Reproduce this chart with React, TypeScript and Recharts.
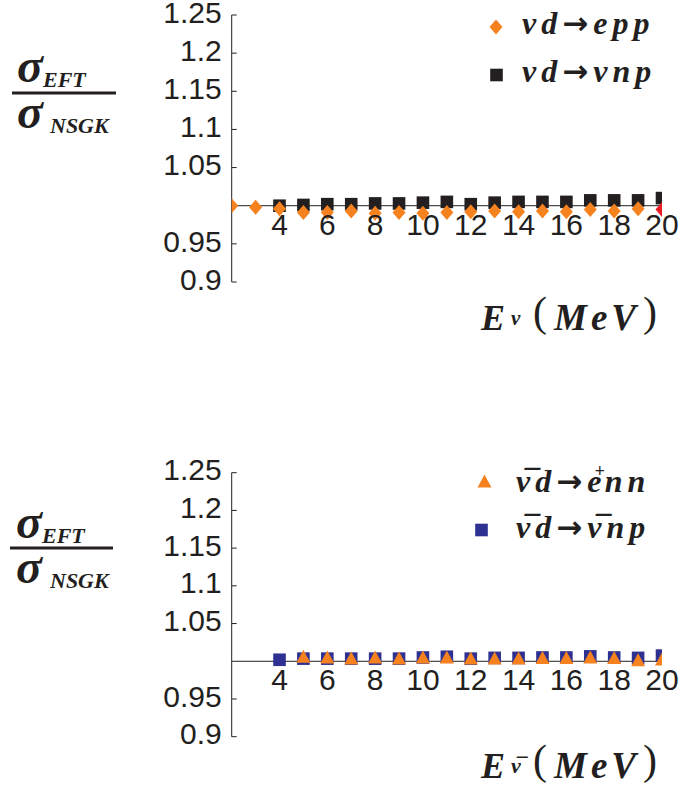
import React from 'react';
import { ScatterChart, Scatter, XAxis, YAxis, ReferenceLine, Legend, Label } from 'recharts';

// ---------- data ----------
const xTicks = [4, 6, 8, 10, 12, 14, 16, 18, 20];
const yTicks = [0.9, 0.95, 1.05, 1.1, 1.15, 1.2, 1.25];

// top panel: nu d -> e p p (orange diamonds)
const eppEnergies = [2, 3, 4, 5, 6, 7, 8, 9, 10, 11, 12, 13, 14, 15, 16, 17, 18, 19];
const eppRatios = [1.0, 0.998, 0.996, 0.991, 0.991, 0.993, 0.99, 0.991, 0.99, 0.991, 0.992, 0.993, 0.992, 0.993, 0.992, 0.995, 0.993, 0.996];
// last point drawn in red
const eppEndEnergies = [20];
const eppEndRatios = [0.995];

// top panel: nu d -> nu n p (black squares)
const vnpEnergies = [4, 5, 6, 7, 8, 9, 10, 11, 12, 13, 14, 15, 16, 17, 18, 19, 20];
const vnpRatios = [1.0, 1.001, 1.002, 1.002, 1.003, 1.003, 1.004, 1.005, 1.002, 1.004, 1.005, 1.005, 1.005, 1.007, 1.007, 1.007, 1.01];

// bottom panel: anti-nu d -> e+ n n (orange triangles)
const ennEnergies = [5, 6, 7, 8, 9, 10, 11, 12, 13, 14, 15, 16, 17, 18, 19, 20];
const ennRatios = [1.0065, 1.0055, 1.0045, 1.0055, 1.0045, 1.0055, 1.0055, 1.0045, 1.0045, 1.0045, 1.005, 1.005, 1.0055, 1.005, 1.002, 1.003];

// bottom panel: anti-nu d -> anti-nu n p (navy squares)
const antiVnpEnergies = [4, 5, 6, 7, 8, 9, 10, 11, 12, 13, 14, 15, 16, 17, 18, 19, 20];
const antiVnpRatios = [1.002, 1.0035, 1.0035, 1.0035, 1.0035, 1.0035, 1.005, 1.006, 1.0035, 1.0045, 1.0045, 1.005, 1.005, 1.0065, 1.005, 1.0045, 1.0075];

const toPoints = (xs: number[], ys: number[]) => xs.map((x, i) => ({ x, y: ys[i] }));

// ---------- styles ----------
const ORANGE = '#F5821F';
const BLACK = '#231F20';
const NAVY = '#2E3192';
const RED = '#ED1C24';
const SANS = '"Liberation Sans", Arial, sans-serif';
const SERIF = '"Liberation Serif", "Times New Roman", serif';
const ARROW_FONT = '"DejaVu Sans", sans-serif';

const W = 683;
const H = 397;
const PLOT_LEFT = 231.7;
const PLOT_RIGHT = 662;
const X_AXIS_H = 30;
const Y_DOMAIN: [number, number] = [0.9, 1.25];
const X_DOMAIN: [number, number] = [2, 20];

// ---------- marker shapes ----------
const Diamond = ({ cx, cy, fill }: any) => (
  <polygon points={`${cx},${cy - 7.5} ${cx + 6.5},${cy} ${cx},${cy + 7.5} ${cx - 6.5},${cy}`} fill={fill} />
);
const Square = ({ cx, cy, fill }: any) => (
  <rect x={cx - 6.3} y={cy - 6.3} width={12.6} height={12.6} fill={fill} />
);
const Triangle = ({ cx, cy, fill }: any) => (
  <polygon points={`${cx},${cy - 6.5} ${cx + 7},${cy + 6.5} ${cx - 7},${cy + 6.5}`} fill={fill} />
);

// ---------- ticks ----------
const YTick = (props: any) => {
  const { x, y, payload } = props;
  return (
    <g>
      <line x1={x + 10} x2={x + 15} y1={y} y2={y} stroke={BLACK} strokeWidth={1} />
      <text x={x} y={y - 3} dy="0.355em" textAnchor="end" fontFamily={SANS} fontSize={30} fill={BLACK}>
        {payload.value}
      </text>
    </g>
  );
};

const makeXTick = (shift: number) => (props: any) => {
  const { x, y, payload } = props;
  return (
    <text x={x} y={y + shift} dy="0.355em" textAnchor="middle" fontFamily={SANS} fontSize={30} fill={BLACK}>
      {payload.value}
    </text>
  );
};

// ---------- labels ----------
const FracLabel = ({ p }: { p: any }) => (
  <g fill={BLACK} fontFamily={SERIF} fontStyle="italic" fontWeight="bold">
    <text x={p.sx} y={p.numBase} fontSize={48}>σ</text>
    <text x={p.subX1} y={p.numBase + 5} fontSize={22}>EFT</text>
    <line x1={p.barX1} x2={p.barX2} y1={p.bar} y2={p.bar} stroke={BLACK} strokeWidth={3} />
    <text x={p.sx} y={p.denBase} fontSize={48}>σ</text>
    <text x={p.subX2} y={p.denBase + 5} fontSize={22}>NSGK</text>
  </g>
);

const XTitle = ({ p, anti }: { p: any; anti: boolean }) => (
  <g fill={BLACK} fontFamily={SERIF}>
    <text x={481} y={p.titleBase} fontSize={36} fontStyle="italic" fontWeight="bold">E</text>
    <text x={511} y={p.titleBase - 5} fontSize={anti ? 22 : 21} fontStyle="italic" fontWeight="bold">
      {anti ? 'ν\u0305' : 'ν'}
    </text>
    <text x={533} y={p.titleBase - 4} fontSize={42}>(</text>
    <text x={554} y={p.titleBase} fontSize={37} fontStyle="italic" fontWeight="bold" letterSpacing={4}>MeV</text>
    <text x={643} y={p.titleBase - 4} fontSize={42}>)</text>
  </g>
);

const legendText = { fontFamily: SERIF, fontStyle: 'italic', fontWeight: 'bold', fontSize: 32, fill: BLACK } as const;
const Arrow = () => (
  <tspan fontFamily={ARROW_FONT} fontStyle="normal" fontWeight="bold" fontSize={31}>→</tspan>
);

const TopLegend = () => (
  <svg width={W} height={110} style={{ display: 'block', overflow: 'visible' }}>
    <Diamond cx={496} cy={27} fill={ORANGE} />
    <text x={522} y={34} {...legendText} letterSpacing={5}>
      νd<Arrow /><tspan>epp</tspan>
    </text>
    <Square cx={496.5} cy={75} fill={BLACK} />
    <text x={522} y={82} {...legendText} letterSpacing={5}>
      νd<Arrow /><tspan>νnp</tspan>
    </text>
  </svg>
);

const BottomLegend = () => (
  <svg width={W} height={160} style={{ display: 'block', overflow: 'visible' }}>
    <Triangle cx={484.5} cy={84} fill={ORANGE} />
    <text x={516} y={95} {...legendText} letterSpacing={5}>
      ν{'\u0305'}d<Arrow /><tspan>e</tspan>
      <tspan dx={-12} dy={-15} fontSize={18}>+</tspan>
      <tspan dx={-5} dy={15}>nn</tspan>
    </text>
    <Square cx={481.5} cy={133} fill={NAVY} />
    <text x={516} y={141} {...legendText} letterSpacing={5}>
      ν{'\u0305'}d<Arrow /><tspan>ν{'\u0305'}np</tspan>
    </text>
  </svg>
);

// ---------- panel ----------
type Series = { data: { x: number; y: number }[]; color: string; shape: any; name: string };

const Panel = ({ p, series, legend, anti }: { p: any; series: Series[]; legend: React.ReactNode; anti: boolean }) => {
  const plotH = p.plotBottom - p.plotTop;
  const yOne = (1 - Y_DOMAIN[0]) / (Y_DOMAIN[1] - Y_DOMAIN[0]);
  const shift = -yOne * plotH + 18.5;
  return (
    <div style={{ position: 'relative', width: W, height: H }}>
      <svg width={0} height={0} style={{ position: 'absolute' }}>
        <defs>
          <clipPath id={p.clipId} clipPathUnits="userSpaceOnUse">
            <rect x={PLOT_LEFT} y={p.plotTop} width={PLOT_RIGHT - PLOT_LEFT} height={plotH} />
          </clipPath>
        </defs>
      </svg>
      <ScatterChart
        width={W}
        height={H}
        margin={{ top: p.plotTop, right: W - PLOT_RIGHT, bottom: H - p.plotBottom - X_AXIS_H, left: 0 }}
      >
        <XAxis
          type="number"
          dataKey="x"
          domain={X_DOMAIN}
          ticks={xTicks}
          interval={0}
          allowDataOverflow
          axisLine={false}
          tickLine={false}
          tickSize={0}
          tickMargin={0}
          height={X_AXIS_H}
          tick={makeXTick(shift)}
        >
          <Label content={() => <XTitle p={p} anti={anti} />} />
        </XAxis>
        <YAxis
          type="number"
          dataKey="y"
          domain={Y_DOMAIN}
          ticks={yTicks}
          interval={0}
          allowDataOverflow
          width={PLOT_LEFT}
          axisLine={{ stroke: BLACK, strokeWidth: 1 }}
          tickLine={false}
          tickSize={0}
          tickMargin={10}
          tick={YTick}
        >
          <Label content={() => <FracLabel p={p} />} />
        </YAxis>
        <ReferenceLine y={1} stroke={BLACK} strokeWidth={1} />
        <Legend
          layout="horizontal"
          verticalAlign="middle"
          align="center"
          width={W}
          wrapperStyle={{ left: 0, top: 0, width: W }}
          content={() => legend}
        />
        {series.map((s) => (
          <Scatter
            key={s.name}
            name={s.name}
            data={s.data}
            fill={s.color}
            shape={(props: any) => <g clipPath={`url(#${p.clipId})`}>{s.shape(props)}</g>}
            isAnimationActive={false}
          />
        ))}
      </ScatterChart>
    </div>
  );
};

const topLayout = {
  clipId: 'plot-clip-top',
  plotTop: 15,
  plotBottom: 282,
  sx: 17,
  subX1: 43,
  subX2: 50,
  numBase: 82,
  denBase: 128,
  bar: 93,
  barX1: 12,
  barX2: 116,
  titleBase: 330,
};

const bottomLayout = {
  clipId: 'plot-clip-bottom',
  plotTop: 75.7,
  plotBottom: 339.7,
  sx: 16,
  subX1: 42,
  subX2: 50,
  numBase: 141,
  denBase: 186,
  bar: 151,
  barX1: 10,
  barX2: 113,
  titleBase: 381,
};

const topSeries: Series[] = [
  { name: 'νd→νnp', data: toPoints(vnpEnergies, vnpRatios), color: BLACK, shape: Square },
  { name: 'νd→epp', data: toPoints(eppEnergies, eppRatios), color: ORANGE, shape: Diamond },
  { name: 'νd→epp (20 MeV)', data: toPoints(eppEndEnergies, eppEndRatios), color: RED, shape: Diamond },
];

const bottomSeries: Series[] = [
  { name: 'ν̄d→ν̄np', data: toPoints(antiVnpEnergies, antiVnpRatios), color: NAVY, shape: Square },
  { name: 'ν̄d→e⁺nn', data: toPoints(ennEnergies, ennRatios), color: ORANGE, shape: Triangle },
];

export default function App() {
  return (
    <div style={{ position: 'absolute', left: 0, top: 0, width: W, height: 794, background: '#fff' }}>
      <Panel p={topLayout} series={topSeries} legend={<TopLegend />} anti={false} />
      <Panel p={bottomLayout} series={bottomSeries} legend={<BottomLegend />} anti={true} />
    </div>
  );
}
